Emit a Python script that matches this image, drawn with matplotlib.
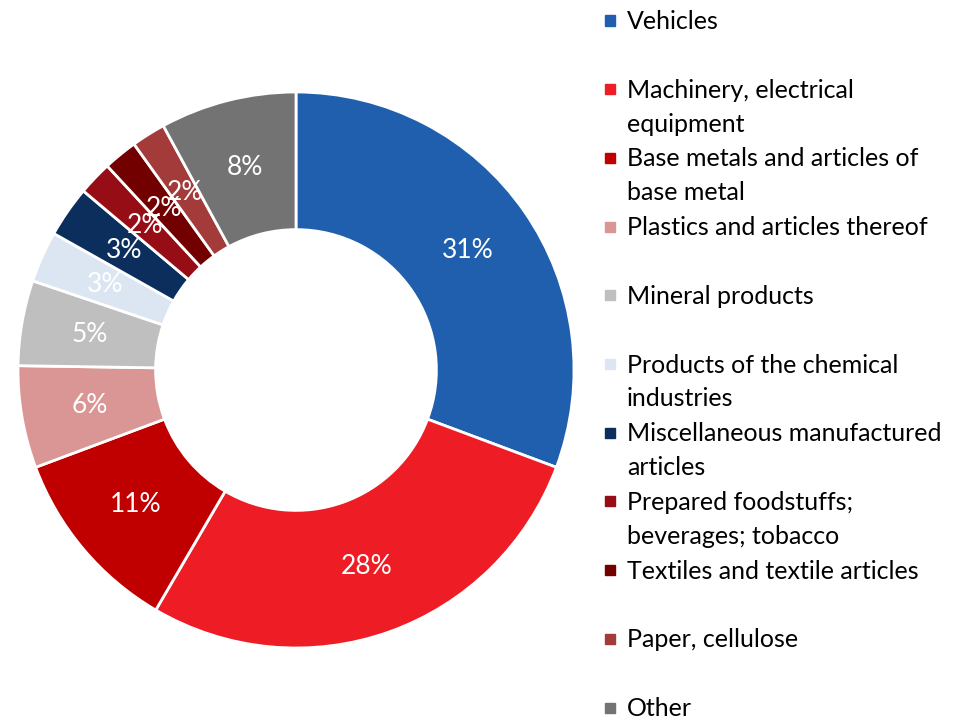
import numpy as np
import matplotlib.pyplot as plt
from matplotlib.patches import Rectangle

plt.rcParams["font.family"] = ["Lato", "DejaVu Sans"]

categories = [
    "Vehicles",
    "Machinery, electrical\nequipment",
    "Base metals and articles of\nbase metal",
    "Plastics and articles thereof",
    "Mineral products",
    "Products of the chemical\nindustries",
    "Miscellaneous manufactured\narticles",
    "Prepared foodstuffs;\nbeverages; tobacco",
    "Textiles and textile articles",
    "Paper, cellulose",
    "Other",
]
shares = [31, 28, 11, 6, 5, 3, 3, 2, 2, 2, 8]
colors = ["#1F5FAD", "#EE1C25", "#C00000", "#DA9694", "#BFBFBF", "#DCE6F2",
          "#0B2E5C", "#960D16", "#730000", "#A33B3A", "#737373"]

W, H = 966, 717
fig = plt.figure(figsize=(W / 100, H / 100), dpi=100)

# donut centred at (296, 370) px, outer radius 278 px
cx, cy, R = 296, 370, 278
pad = 1.02
ax = fig.add_axes([(cx - R * pad) / W, (H - cy - R * pad) / H, 2 * R * pad / W, 2 * R * pad / H])
wedges, _ = ax.pie(shares, colors=colors, startangle=90, counterclock=False,
                   radius=1, wedgeprops=dict(width=0.495, edgecolor="white", linewidth=2))
# percentage labels at the middle of the ring
for w, v in zip(wedges, shares):
    ang = np.deg2rad((w.theta1 + w.theta2) / 2)
    ax.text(0.752 * np.cos(ang), 0.752 * np.sin(ang), f"{v}%", ha="center", va="center",
            color="white", fontsize=19)
ax.set_xlim(-pad, pad)
ax.set_ylim(-pad, pad)
ax.set_aspect("equal")
ax.axis("off")

# legend, one slot of ~68.7 px per entry, 34 px per text line
for i, (lab, c) in enumerate(zip(categories, colors)):
    top = 15.5 + i * 68.7
    fig.patches.append(Rectangle((605 / W, 1 - (top + 10) / H), 10 / W, 10 / H,
                                 transform=fig.transFigure, color=c, figure=fig))
    for k, line in enumerate(lab.split("\n")):
        base = 29 + i * 68.7 + k * 34
        fig.text(627 / W, 1 - base / H, line, ha="left", va="baseline",
                 fontsize=18, color="black")

plt.savefig("out.png", dpi=100)
